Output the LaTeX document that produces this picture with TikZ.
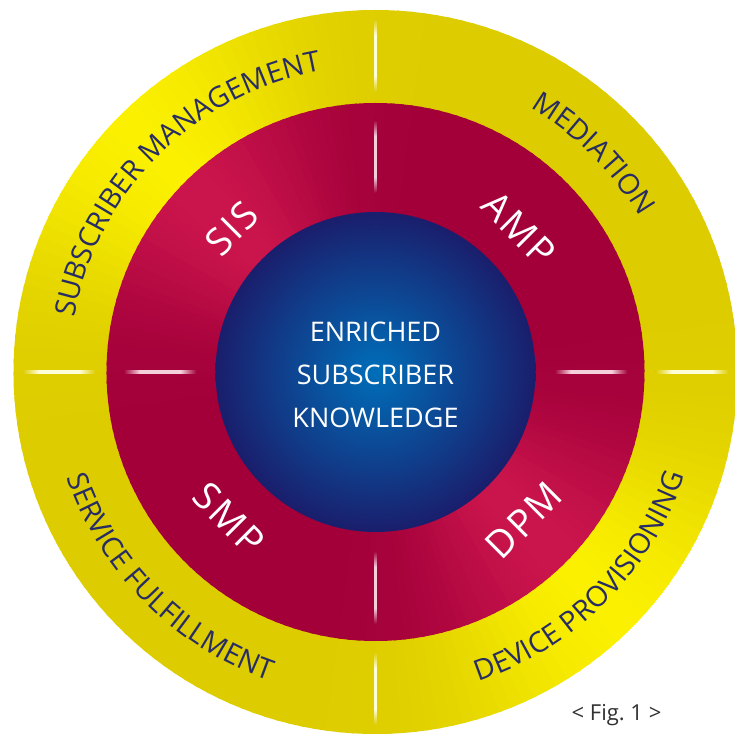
\documentclass[tikz,border=0pt]{standalone}
\usepackage{fontspec}
\setmainfont{Open Sans}
\newfontfamily\ringfont[LetterSpace=6]{Open Sans}
\usetikzlibrary{decorations.text}

\definecolor{ydark}{RGB}{221,204,0}
\definecolor{ylight}{RGB}{250,240,0}
\definecolor{rdark}{RGB}{163,0,58}
\definecolor{rlight}{RGB}{202,20,76}
\definecolor{bdark}{RGB}{26,30,108}
\definecolor{blight}{RGB}{0,110,185}
\definecolor{navy}{RGB}{40,44,100}
\definecolor{figgray}{RGB}{50,50,50}
\colorlet{ymid}{ydark}
\colorlet{rmid}{rdark}
\colorlet{yline}{white!85!ylight}
\colorlet{rline}{white!80!rlight}

\pgfdeclareverticalshading{ydiv}{100bp}{color(0bp)=(ymid); color(25bp)=(ymid); color(36bp)=(yline); color(64bp)=(yline); color(75bp)=(ymid); color(100bp)=(ymid)}
\pgfdeclareverticalshading{rdiv}{100bp}{color(0bp)=(rmid); color(25bp)=(rmid); color(36bp)=(rline); color(64bp)=(rline); color(75bp)=(rmid); color(100bp)=(rmid)}

\newcommand\bandfont{\fontsize{28.5}{28.5}\selectfont}

\begin{document}
\begin{tikzpicture}[
  bandtext/.style={decorate, decoration={text along path, text align=center, text color=navy, text={|\bandfont|#1}}},
  ringlabel/.style={text=white, font=\ringfont\fontsize{38}{38}\selectfont},
  core/.style={text=white, align=center, inner sep=0pt, font=\fontsize{27}{43}\selectfont}]
 \useasboundingbox (-375.5pt,-363pt) rectangle (359.5pt,372pt);

 \foreach \a in {0,2,...,358}{
  \pgfmathtruncatemacro\f{100*((1+cos(2*(\a+1-135)))/2)^4}
  \fill[ylight!\f!ydark] (0,0) -- (\a:362pt) arc[start angle=\a, delta angle=2.6, radius=362pt] -- cycle;
 }
 \foreach \a in {0,2,...,358}{
  \pgfmathtruncatemacro\f{100*((1+cos(2*(\a+1-135)))/2)^4}
  \fill[rlight!\f!rdark] (0,0) -- (\a:269pt) arc[start angle=\a, delta angle=2.6, radius=269pt] -- cycle;
 }
 \shade[inner color=blight, outer color=bdark] (0,0) circle (160pt);

 \foreach \r/\s/\sh in {280/353/ydiv,179/252/rdiv}{
  \shade[shading=\sh] (-1.2pt,\r pt) rectangle (1.2pt,\s pt);
  \shade[shading=\sh] (-1.2pt,-\r pt) rectangle (1.2pt,-\s pt);
  \shade[shading=\sh, shading angle=90] (\r pt,-1.2pt) rectangle (\s pt,1.2pt);
  \shade[shading=\sh, shading angle=90] (-\r pt,-1.2pt) rectangle (-\s pt,1.2pt);
 }

 \path[bandtext=SUBSCRIBER MANAGEMENT] (180:306pt) arc[start angle=180, end angle=90, radius=306pt];
 \path[bandtext=MEDIATION] (90:306pt) arc[start angle=90, end angle=0, radius=306pt];
 \path[bandtext=SERVICE FULFILLMENT] (180:326pt) arc[start angle=180, end angle=270, radius=326pt];
 \path[bandtext=DEVICE PROVISIONING] (270:326pt) arc[start angle=270, end angle=360, radius=326pt];

 \node[ringlabel, rotate=45] (sis) at (135:203pt) {SIS};
 \node[ringlabel, rotate=-45] (amp) at (45:203pt) {AMP};
 \node[ringlabel, rotate=-45] (smp) at (225:207pt) {SMP};
 \node[ringlabel, rotate=45] (dpm) at (315:210pt) {DPM};

 \node[core] (knowledge) at (0,-2.5pt) {ENRICHED\\SUBSCRIBER\\KNOWLEDGE};

 \node[text=figgray, font=\fontsize{22}{22}\selectfont] (fig) at (241pt,-343pt) {< Fig.\ 1 >};
\end{tikzpicture}
\end{document}
